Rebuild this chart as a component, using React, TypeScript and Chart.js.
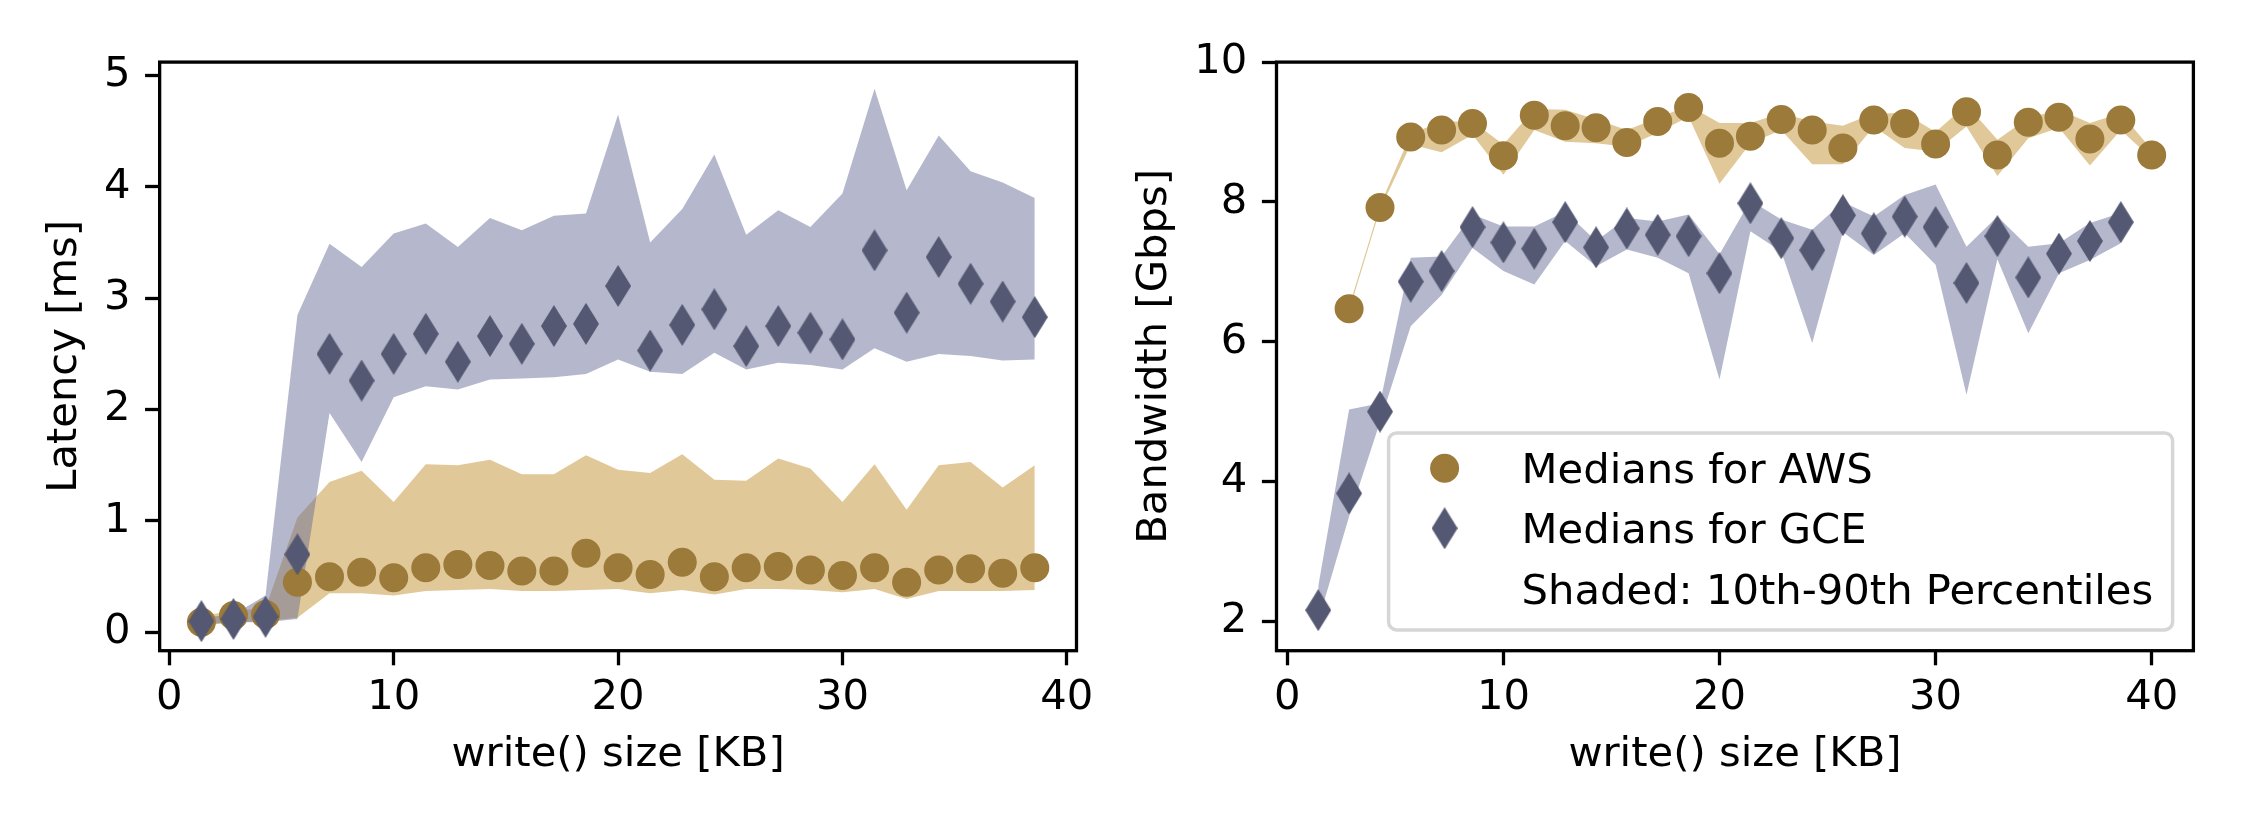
import React, { useEffect, useRef } from "react";
import { Chart, registerables } from "chart.js";

Chart.register(...registerables);

// ---------------- data ----------------
const writeSizesKB = [
  1.43, 2.86, 4.29, 5.71, 7.14, 8.57, 10.0, 11.43, 12.86, 14.29, 15.71, 17.14, 18.57, 20.0,
  21.43, 22.86, 24.29, 25.71, 27.14, 28.57, 30.0, 31.43, 32.86, 34.29, 35.71, 37.14, 38.57, 40.0,
];

const xTickValues = [0, 10, 20, 30, 40];
const latencyTickValues = [0, 1, 2, 3, 4, 5];
const bandwidthTickValues = [2, 4, 6, 8, 10];

const legendLabels = ["Medians for AWS", "Medians for GCE", "Shaded: 10th-90th Percentiles"];

// Latency [ms] (write sizes 1.43 .. 38.57)
const awsLatencyMedian = [
  0.09, 0.15, 0.16, 0.45, 0.5, 0.54, 0.49, 0.58, 0.61, 0.6, 0.55, 0.55, 0.71, 0.58,
  0.52, 0.63, 0.5, 0.58, 0.59, 0.56, 0.51, 0.58, 0.45, 0.56, 0.57, 0.53, 0.58,
];
const awsLatencyP90 = [
  0.15, 0.19, 0.22, 1.03, 1.35, 1.45, 1.17, 1.51, 1.5, 1.55, 1.42, 1.42, 1.59, 1.46,
  1.43, 1.6, 1.37, 1.36, 1.56, 1.47, 1.17, 1.51, 1.1, 1.5, 1.53, 1.3, 1.5,
];
const awsLatencyP10 = [
  0.06, 0.09, 0.1, 0.13, 0.35, 0.35, 0.33, 0.37, 0.38, 0.39, 0.37, 0.37, 0.38, 0.39,
  0.35, 0.38, 0.34, 0.39, 0.39, 0.38, 0.36, 0.39, 0.3, 0.37, 0.37, 0.37, 0.38,
];
const gceLatencyMedian = [
  0.1, 0.12, 0.14, 0.7, 2.5, 2.26, 2.5, 2.68, 2.43, 2.66, 2.59, 2.75, 2.77, 3.11,
  2.53, 2.76, 2.9, 2.57, 2.75, 2.69, 2.63, 3.43, 2.87, 3.37, 3.13, 2.97, 2.83,
];
const gceLatencyP90 = [
  0.13, 0.16, 0.33, 2.85, 3.49, 3.28, 3.58, 3.67, 3.46, 3.72, 3.61, 3.74, 3.76, 4.65,
  3.5, 3.8, 4.29, 3.57, 3.79, 3.64, 3.94, 4.88, 3.97, 4.46, 4.14, 4.04, 3.9,
];
const gceLatencyP10 = [
  0.07, 0.09, 0.09, 0.12, 1.97, 1.53, 2.11, 2.21, 2.18, 2.27, 2.28, 2.29, 2.32, 2.45,
  2.34, 2.32, 2.51, 2.36, 2.42, 2.4, 2.36, 2.55, 2.43, 2.5, 2.48, 2.44, 2.45,
];

// Bandwidth [Gbps]: AWS at write sizes 2.86 .. 40.0, GCE at 1.43 .. 38.57
const awsBandwidthMedian = [
  6.47, 7.92, 8.93, 9.03, 9.12, 8.66, 9.24, 9.09, 9.06, 8.85, 9.15, 9.35, 8.84, 8.94,
  9.18, 9.03, 8.77, 9.17, 9.12, 8.83, 9.29, 8.67, 9.14, 9.21, 8.9, 9.17, 8.67,
];
const awsBandwidthP90 = [
  6.5, 7.95, 8.97, 9.15, 9.15, 8.82, 9.33, 9.32, 9.18, 9.03, 9.2, 9.38, 9.13, 9.13,
  9.27, 9.15, 9.09, 9.27, 9.27, 9.0, 9.39, 8.89, 9.2, 9.32, 9.13, 9.27, 8.75,
];
const awsBandwidthP10 = [
  6.44, 7.89, 8.82, 8.71, 8.96, 8.39, 9.03, 8.86, 8.84, 8.79, 8.99, 9.22, 8.26, 8.84,
  9.03, 8.54, 8.54, 9.08, 8.77, 8.72, 9.08, 8.37, 8.91, 9.06, 8.52, 9.03, 8.62,
];
const gceBandwidthMedian = [
  2.16, 3.83, 5.0, 6.86, 7.01, 7.64, 7.42, 7.33, 7.71, 7.35, 7.62, 7.53, 7.51, 6.98,
  7.98, 7.48, 7.31, 7.81, 7.55, 7.79, 7.64, 6.84, 7.51, 6.92, 7.26, 7.44, 7.71,
];
const gceBandwidthP90 = [
  2.5, 5.03, 5.12, 7.2, 7.22, 7.82, 7.65, 7.65, 7.86, 7.44, 7.77, 7.72, 7.82, 7.25,
  8.02, 7.75, 7.6, 8.0, 7.79, 8.1, 8.25, 7.36, 7.79, 7.36, 7.41, 7.7, 7.84,
];
const gceBandwidthP10 = [
  2.0, 3.5, 4.85, 6.22, 6.67, 7.34, 7.01, 6.82, 7.44, 7.08, 7.32, 7.2, 6.98, 5.46,
  7.58, 7.29, 5.98, 7.57, 7.24, 7.55, 7.1, 5.24, 7.18, 6.12, 6.98, 7.17, 7.41,
];

// ---------------- styling ----------------
const FONT_FAMILY = "'DejaVu Sans', 'Liberation Sans', sans-serif";
const FONT_SIZE = 41.7;
const AWS_MARKER = "#9b7a3a";
const GCE_MARKER = "#545872";
const AWS_FILL = "rgba(193,145,49,0.5)";
const GCE_FILL = "rgba(107,113,153,0.5)";
const LINE_W = 3.3;
const TICK_LEN = 14.6;
const CANVAS_W = 1125;
const CANVAS_H = 825;

function makeThinDiamond(color: string) {
  const w = 26;
  const h = 42;
  const c = document.createElement("canvas");
  c.width = w;
  c.height = h;
  const ctx = c.getContext("2d")!;
  ctx.fillStyle = color;
  ctx.beginPath();
  ctx.moveTo(w / 2, 0);
  ctx.lineTo(w, h / 2);
  ctx.lineTo(w / 2, h);
  ctx.lineTo(0, h / 2);
  ctx.closePath();
  ctx.fill();
  return c;
}

const toPoints = (xs: number[], ys: number[]) => ys.map((y, i) => ({ x: xs[i], y }));

const framePlugin = {
  id: "frame",
  afterDatasetsDraw(chart: any) {
    const { ctx, chartArea } = chart;
    ctx.save();
    ctx.strokeStyle = "#000";
    ctx.lineWidth = LINE_W;
    ctx.strokeRect(chartArea.left, chartArea.top, chartArea.right - chartArea.left, chartArea.bottom - chartArea.top);
    ctx.restore();
  },
};

function makeLegendPlugin(diamond: HTMLCanvasElement) {
  return {
    id: "cornerLegend",
    afterDraw(chart: any) {
      const { ctx, chartArea } = chart;
      const pad = 20.8;
      const w = 784;
      const h = 197;
      const x1 = chartArea.right - pad - w;
      const y1 = chartArea.bottom - pad - h;
      ctx.save();
      ctx.beginPath();
      (ctx as any).roundRect(x1, y1, w, h, 8);
      ctx.fillStyle = "rgba(255,255,255,0.8)";
      ctx.fill();
      ctx.lineWidth = 3.5;
      ctx.strokeStyle = "#d6d6d6";
      ctx.stroke();
      const markerX = x1 + 56;
      const textX = x1 + 133;
      // AWS circle
      ctx.fillStyle = AWS_MARKER;
      ctx.beginPath();
      ctx.arc(markerX, y1 + 35.4, 14.5, 0, Math.PI * 2);
      ctx.fill();
      // GCE diamond
      ctx.drawImage(diamond, markerX - diamond.width / 2, y1 + 95.4 - diamond.height / 2);
      ctx.fillStyle = "#000";
      ctx.font = `${FONT_SIZE}px ${FONT_FAMILY}`;
      ctx.textAlign = "left";
      ctx.textBaseline = "alphabetic";
      const baselines = [50.4, 110.4, 171.4];
      legendLabels.forEach((t, i) => ctx.fillText(t, textX, y1 + baselines[i]));
      ctx.restore();
    },
  };
}

type PanelSpec = {
  xMin: number;
  xMax: number;
  yMin: number;
  yMax: number;
  yTicks: number[];
  yTitle: string;
  yTitlePad: number;
  yAxisWidth: number;
  padRight: number;
  datasets: any[];
  plugins: any[];
};

function buildConfig(p: PanelSpec): any {
  const font = { family: FONT_FAMILY, size: FONT_SIZE };
  const grid = {
    display: true,
    drawOnChartArea: false,
    drawTicks: true,
    tickLength: TICK_LEN,
    tickWidth: LINE_W,
    tickColor: "#000",
  };
  return {
    type: "line",
    data: { datasets: p.datasets },
    plugins: p.plugins,
    options: {
      animation: false,
      responsive: false,
      maintainAspectRatio: false,
      events: [],
      layout: { padding: { left: 0, right: p.padRight, top: 62.1, bottom: 0 } },
      plugins: {
        legend: { display: false },
        tooltip: { enabled: false },
        filler: { propagate: false },
      },
      scales: {
        x: {
          type: "linear",
          min: p.xMin,
          max: p.xMax,
          afterBuildTicks: (s: any) => {
            s.ticks = xTickValues.map((value) => ({ value }));
          },
          afterFit: (s: any) => {
            s.height = CANVAS_H - 650.7;
          },
          grid,
          border: { display: false },
          ticks: {
            color: "#000",
            font,
            padding: 8,
            maxRotation: 0,
            autoSkip: false,
            callback: (v: any) => String(v),
          },
          title: {
            display: true,
            text: "write() size [KB]",
            color: "#000",
            font,
            padding: { top: 0, bottom: 45 },
          },
        },
        y: {
          type: "linear",
          min: p.yMin,
          max: p.yMax,
          afterBuildTicks: (s: any) => {
            s.ticks = p.yTicks.map((value) => ({ value }));
          },
          afterFit: (s: any) => {
            s.width = p.yAxisWidth;
          },
          grid,
          border: { display: false },
          ticks: {
            color: "#000",
            font,
            padding: 14.6,
            autoSkip: false,
            callback: (v: any) => String(v),
          },
          title: {
            display: true,
            text: p.yTitle,
            color: "#000",
            font,
            padding: { top: p.yTitlePad, bottom: 0 },
          },
        },
      },
    },
  };
}

function bandDatasets(xs: number[], upper: number[], lower: number[], fill: string, baseIndex: number, order: number) {
  return [
    {
      label: "upper",
      data: toPoints(xs, upper),
      borderWidth: 0,
      borderColor: "rgba(0,0,0,0)",
      backgroundColor: fill,
      pointRadius: 0,
      tension: 0,
      fill: baseIndex + 1,
      order: order + 1,
    },
    {
      label: "lower",
      data: toPoints(xs, lower),
      borderWidth: 0,
      borderColor: "rgba(0,0,0,0)",
      backgroundColor: fill,
      pointRadius: 0,
      tension: 0,
      fill: false,
      order,
    },
  ];
}

function markerDatasets(
  awsXs: number[],
  awsMed: number[],
  gceXs: number[],
  gceMed: number[],
  diamond: HTMLCanvasElement
) {
  return [
    {
      label: legendLabels[0],
      data: toPoints(awsXs, awsMed),
      showLine: false,
      pointStyle: "circle",
      pointRadius: 14.5,
      pointBackgroundColor: AWS_MARKER,
      pointBorderWidth: 0,
      pointBorderColor: AWS_MARKER,
      fill: false,
      order: 1,
    },
    {
      label: legendLabels[1],
      data: toPoints(gceXs, gceMed),
      showLine: false,
      pointStyle: diamond,
      pointRadius: 14,
      pointBackgroundColor: GCE_MARKER,
      pointBorderWidth: 0,
      fill: false,
      order: 0,
    },
  ];
}

function PanelCanvas({ left, make }: { left: number; make: () => any }) {
  const ref = useRef<HTMLCanvasElement>(null);
  useEffect(() => {
    const chart = new Chart(ref.current!, make());
    return () => chart.destroy();
  }, []);
  return (
    <canvas
      ref={ref}
      width={CANVAS_W}
      height={CANVAS_H}
      style={{ position: "absolute", left, top: 0, width: CANVAS_W, height: CANVAS_H }}
    />
  );
}

export default function App() {
  const latencyXs = writeSizesKB.slice(0, 27);
  const awsBwXs = writeSizesKB.slice(1, 28);
  const gceBwXs = writeSizesKB.slice(0, 27);

  const makeLatency = () => {
    const diamond = makeThinDiamond(GCE_MARKER);
    return buildConfig({
      xMin: -0.43,
      xMax: 40.43,
      yMin: -0.165,
      yMax: 5.12,
      yTicks: latencyTickValues,
      yTitle: "Latency [ms]",
      yTitlePad: 40,
      yAxisWidth: 159.65,
      padRight: CANVAS_W - 1076.5,
      datasets: [
        ...bandDatasets(latencyXs, awsLatencyP90, awsLatencyP10, AWS_FILL, 0, 4),
        ...bandDatasets(latencyXs, gceLatencyP90, gceLatencyP10, GCE_FILL, 2, 2),
        ...markerDatasets(latencyXs, awsLatencyMedian, latencyXs, gceLatencyMedian, diamond),
      ],
      plugins: [framePlugin],
    });
  };

  const makeBandwidth = () => {
    const diamond = makeThinDiamond(GCE_MARKER);
    return buildConfig({
      xMin: -0.5,
      xMax: 41.93,
      yMin: 1.58,
      yMax: 10.0,
      yTicks: bandwidthTickValues,
      yTitle: "Bandwidth [Gbps]",
      yTitlePad: 5,
      yAxisWidth: 1276.5 - CANVAS_W,
      padRight: 2250 - 2193.4,
      datasets: [
        ...bandDatasets(awsBwXs, awsBandwidthP90, awsBandwidthP10, AWS_FILL, 0, 4),
        ...bandDatasets(gceBwXs, gceBandwidthP90, gceBandwidthP10, GCE_FILL, 2, 2),
        ...markerDatasets(awsBwXs, awsBandwidthMedian, gceBwXs, gceBandwidthMedian, diamond),
      ],
      plugins: [framePlugin, makeLegendPlugin(diamond)],
    });
  };

  return (
    <div
      style={{
        position: "fixed",
        left: 0,
        top: 0,
        width: 2250,
        height: 825,
        background: "#fff",
        overflow: "hidden",
      }}
    >
      <PanelCanvas left={0} make={makeLatency} />
      <PanelCanvas left={CANVAS_W} make={makeBandwidth} />
    </div>
  );
}
